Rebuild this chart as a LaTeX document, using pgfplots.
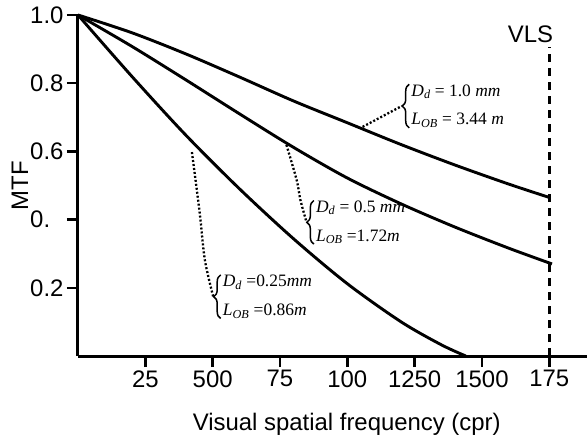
\documentclass[border=0pt]{standalone}
\usepackage{pgfplots}
\pgfplotsset{compat=1.18}
\usetikzlibrary{decorations.pathreplacing}
\usepackage{fontspec}
\setmainfont{Liberation Sans}
\newfontfamily\tnr{Liberation Serif}
\newcommand{\sub}[1]{\textsubscript{\itshape #1}}
\newcommand{\lblfont}{\fontsize{24}{28}\selectfont}
\tikzset{
  anntext/.style={anchor=west, inner sep=0pt, xshift=9.5bp, align=left,
    font=\tnr\fontsize{17.5}{29}\selectfont},
  annbrace/.style={line width=1.5bp, decorate,
    decoration={brace, amplitude=7bp}},
}

\begin{document}
\begin{tikzpicture}
  \begin{axis}[
    scale only axis, width=509bp, height=341bp,
    xmin=0, xmax=189, ymin=0, ymax=1,
    axis x line*=bottom, axis y line*=left,
    axis line style={line width=3bp},
    tick align=outside, major tick length=11bp,
    tick style={line width=2.6bp, black},
    xtick={25,50,75,100,125,150,175},
    xticklabels={25,500,75,100,1250,1500,175},
    ytick={0.2,0.4,0.6,0.8,1.0},
    yticklabels={0.2,0.\phantom{4},0.6,0.8,1.0},
    /pgf/number format/assume math mode=true,
    ticklabel style={font=\lblfont},
    label style={font=\lblfont},
    xlabel={Visual spatial frequency (cpr)},
    ylabel={MTF},
    xlabel style={at={(axis description cs:0.528,-0.2)}, anchor=center},
    ylabel style={at={(axis description cs:-0.114,0.5)}, anchor=center},
    clip=false,
  ]
    \coordinate (O) at (axis cs:0,0);
    % D_d = 1.0 mm
    \addplot[black, line width=2.9bp, smooth] coordinates {
      (0,1) (20,0.948) (40,0.886) (60,0.818) (80,0.748) (100,0.684)
      (120,0.620) (140,0.560) (160,0.504) (175,0.465)};
    % D_d = 0.5 mm
    \addplot[black, line width=2.9bp, smooth] coordinates {
      (0,1) (20,0.908) (40,0.810) (60,0.710) (80,0.612) (100,0.522)
      (120,0.446) (140,0.378) (160,0.316) (176,0.270)};
    % D_d = 0.25 mm
    \addplot[black, line width=2.9bp, smooth] coordinates {
      (0,1) (20,0.820) (40,0.648) (60,0.490) (80,0.344) (100,0.212)
      (120,0.100) (135,0.0325) (144,0.0)};
    % VLS
    \addplot[black, line width=2.6bp, dash pattern=on 8bp off 6bp] coordinates {(175,0) (175,0.906)};
    \node[anchor=south east, font=\lblfont, inner sep=0pt] at (axis cs:176.5,0.918) {VLS};

    % leader lines
    \addplot[black, line width=2.3bp, dash pattern=on 2bp off 2bp] coordinates {(105.7,0.672) (120.2,0.733)};
    \addplot[black, line width=2.3bp, dash pattern=on 2bp off 2bp, smooth] coordinates {
      (77.4,0.619) (81.2,0.516) (82.6,0.457) (84.8,0.394)};
    \addplot[black, line width=2.3bp, dash pattern=on 2bp off 2bp, smooth] coordinates {
      (42.3,0.598) (45.2,0.419) (47.1,0.282) (50.2,0.174)};

    \node[anntext] (a1) at (axis cs:120.2,0.733)
      {\textit{D}\sub{d} = 1.0 \textit{mm}\\\textit{L}\sub{OB} = 3.44 \textit{m}};
    \node[anntext] (a2) at (axis cs:84.8,0.392)
      {\textit{D}\sub{d} = 0.5 \textit{mm}\\\textit{L}\sub{OB} =1.72\textit{m}};
    \node[anntext] (a3) at (axis cs:50.2,0.174)
      {\textit{D}\sub{d} =0.25\textit{mm}\\\textit{L}\sub{OB} =0.86\textit{m}};
    \draw[annbrace] ([xshift=-2bp]a1.south west) -- ([xshift=-2bp]a1.north west);
    \draw[annbrace] ([xshift=-2bp]a2.south west) -- ([xshift=-2bp]a2.north west);
    \draw[annbrace] ([xshift=-2bp]a3.south west) -- ([xshift=-2bp]a3.north west);
  \end{axis}
  \pgfresetboundingbox
  \path (O) ++(-78bp,-84bp) rectangle ++(587bp,440bp);
\end{tikzpicture}
\end{document}
